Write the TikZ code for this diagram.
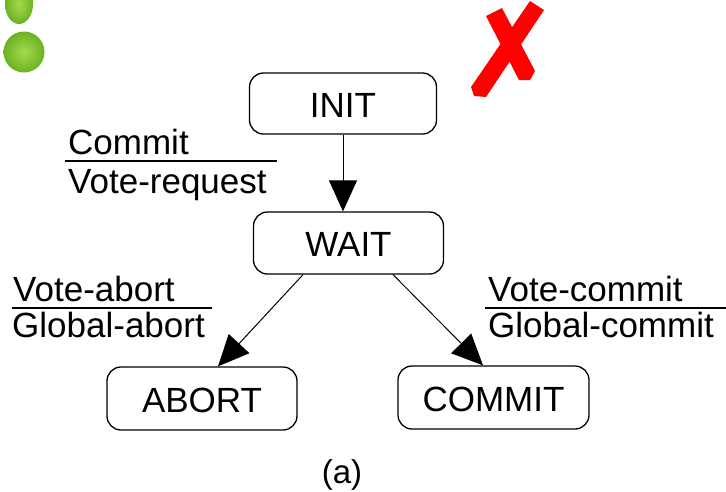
\documentclass[tikz,border=0pt]{standalone}
\usepackage{fontspec}
\setmainfont{Liberation Sans}
\usetikzlibrary{arrows.meta}
\definecolor{peainner}{RGB}{165,218,80}
\definecolor{peaouter}{RGB}{108,178,32}
\definecolor{crossred}{RGB}{255,0,0}
\tikzset{
  state/.style={draw, line width=1.3pt, rounded corners=14pt, inner sep=0pt,
    text height=27pt, text depth=0pt, font=\fontsize{35}{42}\selectfont},
  trans/.style={line width=1pt, -{Triangle[length=31pt,width=28pt]}},
  lbl/.style={anchor=base west, inner sep=0pt, font=\fontsize{35}{42}\selectfont},
  rule/.style={line width=1.3pt},
}
\begin{document}
\begin{tikzpicture}[x=1pt,y=-1pt]
\useasboundingbox[fill=white] (0,0) rectangle (726,491);

% peas in the corner
\shade[inner color=peainner, outer color=peaouter] (19,4) ellipse [x radius=14pt, y radius=20pt];
\shade[inner color=peainner, outer color=peaouter] (24,52) circle (20.5pt);

% red cross
\fill[crossred] (530,1) -- (544,10) -- (486,97) -- (474,96) -- (471,87) -- cycle;
\fill[crossred] (486,16) -- (502,8) -- (535,71) -- (530,80) -- (519,80) -- cycle;

% states
\node[state, minimum width=187pt, minimum height=61pt] (init)   at (343,103.5) {INIT};
\node[state, minimum width=190pt, minimum height=62pt] (wait)   at (348.5,243) {WAIT};
\node[state, minimum width=190pt, minimum height=63pt] (abort)  at (202,398.5) {ABORT};
\node[state, minimum width=191pt, minimum height=63pt] (commit) at (493.5,397.5) {COMMIT};

% transitions
\draw[trans] (init.south) -- (init.south |- wait.north);
\draw[trans] ([xshift=-45.5pt]wait.south) -- ([xshift=16pt]abort.north);
\draw[trans] ([xshift=44.5pt]wait.south) -- ([xshift=-10.5pt]commit.north);

% transition labels: input over output
\node[lbl] (t1in)  at (68,154) {Commit};
\draw[rule] (65,161) -- (277,161);
\node[lbl] (t1out) at (68,193) {Vote-request};

\node[lbl] (t2in)  at (13,301) {Vote-abort};
\draw[rule] (12,308) -- (212,308);
\node[lbl] (t2out) at (12,337) {Global-abort};

\node[lbl] (t3in)  at (488,301) {Vote-commit};
\draw[rule] (485,308) -- (726,308);
\node[lbl] (t3out) at (488,337) {Global-commit};

% caption
\node[anchor=base, inner sep=0pt, font=\fontsize{33}{40}\selectfont] (caption) at (342,483) {(a)};
\end{tikzpicture}
\end{document}
